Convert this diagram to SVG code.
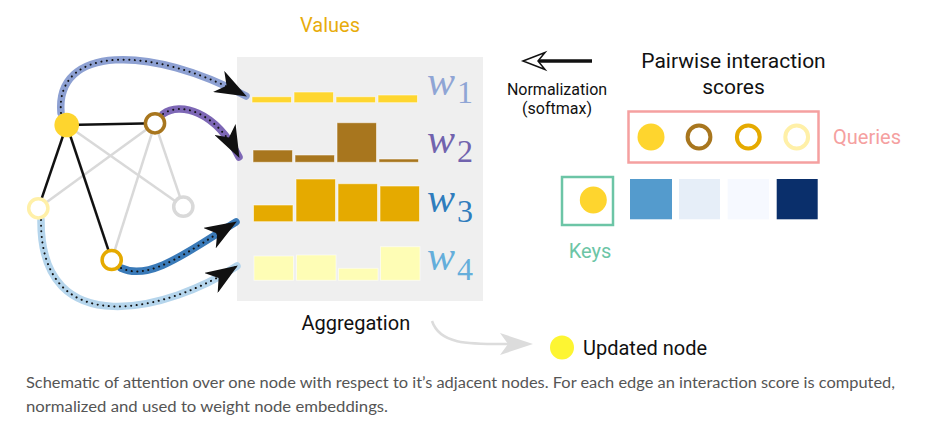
<svg xmlns="http://www.w3.org/2000/svg" width="931" height="424" viewBox="0 0 931 424">
<style>
.lbl{font-family:Roboto,"Liberation Sans",sans-serif;font-size:20px;fill:#111}
.sm{font-family:Roboto,"Liberation Sans",sans-serif;font-size:16px;fill:#111}
.cap{font-family:Lato,"Liberation Sans",sans-serif;font-size:15.5px;fill:#555}
.wl{font-family:"Liberation Serif",serif;font-style:italic;font-size:42px}
.sub{font-style:normal;font-size:32px}
.eb{stroke:#111;stroke-width:2.5}
.eg{stroke:#d9d9d9;stroke-width:2.5}
.ring{fill:#fff;stroke-width:3.5}
.qring{fill:#fff;stroke-width:4}
.band{fill:none;stroke-width:7.5;stroke-linecap:round}
.dots{fill:none;stroke:#111;stroke-width:2;stroke-dasharray:0.1 5.5;stroke-linecap:round}
.bar{stroke:#fff;stroke-opacity:0.55;stroke-width:1}
</style>
<defs>
<marker id="dart" viewBox="0 0 32 24" refX="31" refY="12" markerWidth="32" markerHeight="24" markerUnits="userSpaceOnUse" orient="auto">
<path d="M0,0 L32,12 L0,24 L9,12 Z" fill="#111"/>
</marker>
</defs>
<rect width="931" height="424" fill="#fff"/>

<g id="values-panel">
<rect x="237" y="57" width="246" height="244" fill="#efefef"/>
<text x="330" y="32" text-anchor="middle" class="lbl" style="fill:#e8ac0c">Values</text>
</g>

<g id="bars-w1" fill="#fed630" class="bar">
<rect x="252" y="96.7" width="39.5" height="6"/>
<rect x="294" y="92" width="39.5" height="10.7"/>
<rect x="336" y="96.7" width="39.5" height="6"/>
<rect x="378" y="95" width="39.5" height="7.7"/>
</g>
<g id="bars-w2" fill="#a8761e" class="bar">
<rect x="253" y="150" width="39.5" height="12.3"/>
<rect x="295" y="155" width="39.5" height="7.3"/>
<rect x="337" y="122.7" width="39.5" height="39.6"/>
<rect x="379" y="159" width="39.5" height="3.3"/>
</g>
<g id="bars-w3" fill="#e5aa00" class="bar">
<rect x="253.5" y="205" width="39.5" height="16.7"/>
<rect x="296" y="179" width="39.5" height="42.7"/>
<rect x="338" y="183.7" width="39.5" height="38"/>
<rect x="380" y="186" width="39.5" height="35.7"/>
</g>
<g id="bars-w4" fill="#fefdb5" class="bar">
<rect x="254" y="256" width="39.5" height="24.3"/>
<rect x="296.5" y="255" width="39.5" height="25.3"/>
<rect x="338.5" y="268.3" width="39.5" height="12"/>
<rect x="380.5" y="246.7" width="39.5" height="33.6"/>
</g>

<g id="weights">
<text x="427" y="95" class="wl" fill="#8fa5d5">w<tspan class="sub" x="457" y="103">1</tspan></text>
<text x="427" y="153.3" class="wl" fill="#7163ae">w<tspan class="sub" x="457" y="161.7">2</tspan></text>
<text x="427" y="211.7" class="wl" fill="#2f7dbd">w<tspan class="sub" x="457" y="221.7">3</tspan></text>
<text x="427" y="270" class="wl" fill="#64aedb">w<tspan class="sub" x="457" y="280">4</tspan></text>
</g>

<g id="edges">
<line x1="66.7" y1="125" x2="183.3" y2="206.7" class="eg"/>
<line x1="155" y1="123.3" x2="38.3" y2="208.3" class="eg"/>
<line x1="155" y1="123.3" x2="111.7" y2="260" class="eg"/>
<line x1="155" y1="123.3" x2="183.3" y2="206.7" class="eg"/>
<line x1="66.7" y1="125" x2="155" y2="123.3" class="eb"/>
<line x1="66.7" y1="125" x2="38.3" y2="208.3" class="eb"/>
<line x1="66.7" y1="125" x2="111.7" y2="260" class="eb"/>
</g>

<g id="connectors">
<path d="M61 113 C55 45,150 45,246 96" class="band" stroke="#8da0d2"/>
<path d="M61 113 C55 45,150 45,246 96" class="dots" marker-end="url(#dart)"/>
<path d="M163 114 C180 102,215 110,239 157" class="band" stroke="#7d67b5"/>
<path d="M163 114 C180 102,215 110,239 157" class="dots" marker-end="url(#dart)"/>
<path d="M121 268 C150 282,190 250,236 222" class="band" stroke="#3a7ab8"/>
<path d="M121 268 C150 282,190 250,236 222" class="dots" marker-end="url(#dart)"/>
<path d="M41 220 C40 345,170 310,237 266" class="band" stroke="#b5d5ec"/>
<path d="M41 220 C40 345,170 310,237 266" class="dots" marker-end="url(#dart)"/>
<path d="M432 321 C440 345,470 344,508 344" fill="none" stroke="#dcdcdc" stroke-width="2.5"/>
<path d="M533 344 L500 333 L508 344 L500 355 Z" fill="#dcdcdc"/>
<line x1="592" y1="61" x2="538" y2="61" stroke="#111" stroke-width="3.5"/>
<path d="M523 61 L545 52.5 L538 61 L545 69.5 Z" fill="#fff" stroke="#111" stroke-width="1.5"/>
</g>

<g id="node-yellow"><circle cx="66.7" cy="125" r="12.3" fill="#fed52e"/></g>
<g id="node-brown"><circle cx="155" cy="123.3" r="9.6" class="ring" stroke="#a8761e"/></g>
<g id="node-lightyellow"><circle cx="38.3" cy="208.3" r="9.6" class="ring" stroke="#fff0a8"/></g>
<g id="node-grey"><circle cx="183.3" cy="206.7" r="9.6" class="ring" stroke="#d9d9d9"/></g>
<g id="node-gold"><circle cx="111.7" cy="260" r="9.6" class="ring" stroke="#e5aa00"/></g>

<g id="normalization">
<text x="557" y="94.5" text-anchor="middle" class="sm">Normalization</text>
<text x="557" y="113.5" text-anchor="middle" class="sm">(softmax)</text>
</g>

<g id="pairwise">
<text x="733.5" y="67.5" text-anchor="middle" class="lbl" style="font-size:21px">Pairwise interaction</text>
<text x="733.5" y="94" text-anchor="middle" class="lbl" style="font-size:21px">scores</text>
</g>

<g id="queries">
<rect x="628.5" y="111.5" width="190" height="51" fill="none" stroke="#f5a0a0" stroke-width="2.5"/>
<circle cx="651" cy="137" r="13.5" fill="#fed52e"/>
<circle cx="699" cy="137" r="11.4" class="qring" stroke="#a8761e"/>
<circle cx="748.3" cy="137" r="11.4" class="qring" stroke="#e5aa00"/>
<circle cx="796.7" cy="137" r="11.4" class="qring" stroke="#fff0a8"/>
<text x="833" y="144" class="lbl" style="fill:#f5a0a0">Queries</text>
</g>

<g id="keys">
<rect x="562" y="177" width="51" height="48" fill="none" stroke="#6cc5a6" stroke-width="2.5"/>
<circle cx="593.3" cy="200" r="13.5" fill="#fed52e"/>
<text x="590" y="258" text-anchor="middle" class="lbl" style="fill:#6cc5a6">Keys</text>
</g>

<g id="scores">
<rect x="630" y="179" width="42" height="40.3" fill="#549bcd"/>
<rect x="679" y="179" width="41" height="40.3" fill="#e6eef8"/>
<rect x="727.7" y="179" width="41.3" height="40.3" fill="#f6f9ff"/>
<rect x="776.7" y="179" width="41" height="40.3" fill="#0a2f6b"/>
</g>

<g id="aggregation">
<text x="301.5" y="330" class="lbl">Aggregation</text>
</g>

<g id="updated-node">
<circle cx="562" cy="347.5" r="12" fill="#fdf532"/>
<text x="583" y="355" class="lbl">Updated node</text>
</g>

<g id="caption">
<text x="26" y="388" class="cap" textLength="869" lengthAdjust="spacingAndGlyphs">Schematic of attention over one node with respect to it’s adjacent nodes. For each edge an interaction score is computed,</text>
<text x="26" y="412" class="cap" textLength="362" lengthAdjust="spacingAndGlyphs">normalized and used to weight node embeddings.</text>
</g>
</svg>
